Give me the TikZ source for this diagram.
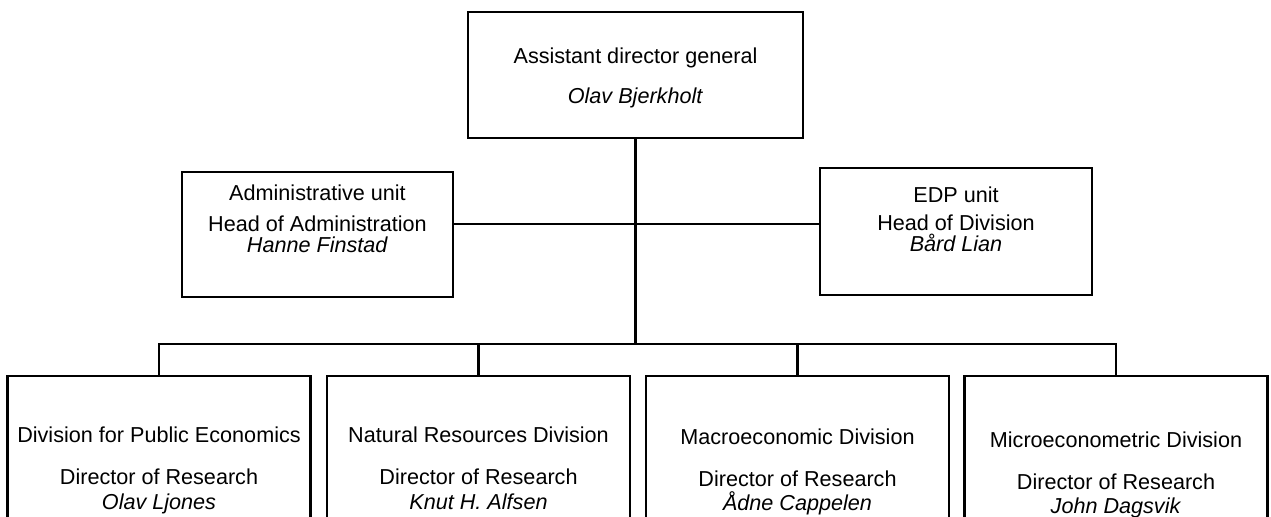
\documentclass[tikz,border=0pt]{standalone}
\usepackage{fontspec}
\setmainfont{Liberation Sans}
\usetikzlibrary{positioning}
\tikzset{
  orgbox/.style={draw=black,line width=1.2pt,inner sep=0pt},
  divbox/.style={orgbox,minimum width=6.06cm,minimum height=4cm},
  txt/.style={align=center,inner sep=0pt,font=\fontsize{12.3}{12.2}\selectfont},
  wire/.style={line width=1.2pt},
}

\begin{document}
\begin{tikzpicture}[x=0.02cm,y=-0.02cm]
  \useasboundingbox (0,0) rectangle (1271,517);
  % boxes
  \node[orgbox,minimum width=6.7cm,minimum height=2.52cm] (adg) at (635.5,75) {};
  \node[orgbox,minimum width=5.42cm,minimum height=2.5cm] (adm) at (317.5,234.5) {};
  \node[orgbox,minimum width=5.44cm,minimum height=2.54cm] (edp) at (956,231.5) {};
  \foreach \n/\x in {d1/159,d2/478.5,d3/797.5,d4/1116}
    {\node[divbox] (\n) at (\x,476) {};}
  % texts
  \node[txt,below=0.74cm of adg.north] (adgt)
    {Assistant director general\\[10.5pt]\textit{Olav Bjerkholt}};
  \node[txt,below=0.27cm of adm.north] (admt)
    {Administrative unit\\[5.4pt]Head of Administration\\\textit{Hanne Finstad}};
  \node[txt,below=0.39cm of edp.north] (edpt)
    {EDP unit\\[3.7pt]Head of Division\\\textit{Bård Lian}};
  \foreach \n/\d/\t/\p in {d1/1.04cm/Division for Public Economics/Olav Ljones,
      d2/1.04cm/Natural Resources Division/Knut H. Alfsen,
      d3/1.07cm/Macroeconomic Division/Ådne Cappelen,
      d4/1.13cm/Microeconometric Division/John Dagsvik}
    {\node[txt,below=\d of \n.north] (\n t)
       {\t\\[11.5pt]Director of Research\\[1.8pt]\textit{\p}};}
  % connectors
  \coordinate (jn) at (635.5,224);
  \coordinate (bus) at (635.5,344);
  \draw[wire] (adg.south) -- (bus);
  \draw[wire] (adm.east |- jn) -- (edp.west |- jn);
  \draw[wire] (d1.north) |- (bus) -| (d4.north);
  \foreach \n in {d2,d3}
    {\draw[wire] (\n.north) -- (\n.north |- bus);}
\end{tikzpicture}
\end{document}
